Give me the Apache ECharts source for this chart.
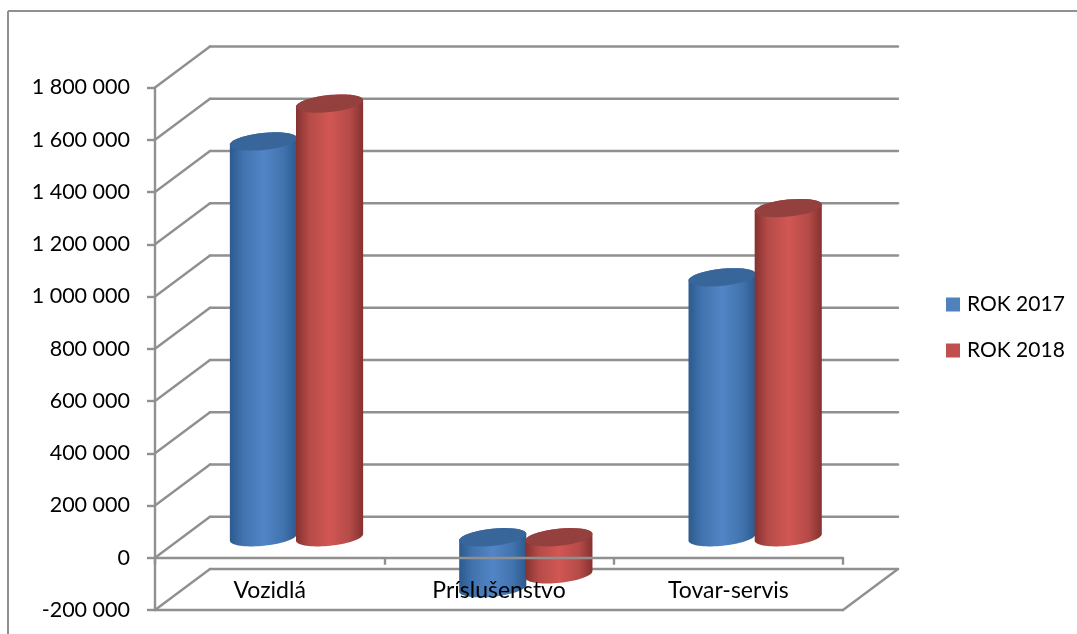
<!DOCTYPE html>
<html><head><meta charset="utf-8">
<style>html,body{margin:0;padding:0;background:#fff}#c{width:1077px;height:634px}</style>
<script src="https://cdn.jsdelivr.net/npm/echarts@6/dist/echarts.min.js"></script>
</head><body><div id="c"></div>
<script>
const categories = ['Vozidlá', 'Príslušenstvo', 'Tovar-servis'];
const values2017 = [1515000, -195000, 995000];
const values2018 = [1660000, -142000, 1260000];
const tickValues = [-200000, 0, 200000, 400000, 600000, 800000, 1000000, 1200000, 1400000, 1600000, 1800000];
const seriesNames = ['ROK 2017', 'ROK 2018'];

const DX = 55, DY = -41, BAR_W = 67.5, RY = 8.5, TILT = -6 * Math.PI / 180;
const GRAY = '#909090';
const LW = 2.4;
const FONT = 'Lato, "Open Sans", sans-serif';

function ellipsePts(cx, cy, from, to) {
  const a = BAR_W / 2, pts = [], n = 36;
  for (let i = 0; i <= n; i++) {
    const t = from + (to - from) * i / n;
    const ex = a * Math.cos(t), ey = RY * Math.sin(t);
    pts.push([cx + ex * Math.cos(TILT) - ey * Math.sin(TILT),
              cy + ex * Math.sin(TILT) + ey * Math.cos(TILT)]);
  }
  return pts;
}
function cylinder(offset, edge, mid, cap) {
  return function (params, api) {
    const idx = api.value(0), val = api.value(1);
    const hi = api.coord([idx, Math.max(val, 0)]);
    const lo = api.coord([idx, Math.min(val, 0)]);
    const cx = hi[0] + DX / 2 + offset * BAR_W / 2;
    const yTop = hi[1] + DY / 2, yBot = lo[1] + DY / 2;
    const body = [...ellipsePts(cx, yTop, 0, -Math.PI), ...ellipsePts(cx, yBot, Math.PI, 0)];
    return {
      type: 'group',
      children: [
        { type: 'polygon', shape: { points: body },
          style: { fill: { type: 'linear', x: 0, y: 0, x2: 1, y2: 0, colorStops: [
            { offset: 0, color: edge }, { offset: 0.2, color: mid[0] },
            { offset: 0.5, color: mid[1] }, { offset: 0.8, color: mid[0] }, { offset: 1, color: edge }] } } },
        { type: 'polygon', shape: { points: ellipsePts(cx, yTop, 0, 2 * Math.PI) },
          style: { fill: cap } }
      ]
    };
  };
}
function walls(params, api) {
  const v = api.value(1), p = api.coord([0, v]);
  const cs = params.coordSys;
  const x0 = cs.x, w = cs.width, y = p[1];
  const ln = (a, b, c, d) => ({ type: 'line', shape: { x1: a, y1: b, x2: c, y2: d },
    style: { stroke: GRAY, lineWidth: LW, lineCap: 'round' } });
  const kids = [ln(x0, y, x0 + DX, y + DY), ln(x0 + DX, y + DY, x0 + w + DX, y + DY)];
  if (v === tickValues[0]) {
    kids.push(ln(x0, y, x0 + w, y), ln(x0 + w, y, x0 + w + DX, y + DY));
  }
  return { type: 'group', children: kids };
}

const chart = echarts.init(document.getElementById('c'), null, { renderer: 'canvas' });
chart.setOption({
  animation: false,
  backgroundColor: '#fff',
  graphic: [
    { type: 'line', silent: true, shape: { x1: 8, y1: 11, x2: 1077, y2: 11 }, style: { stroke: GRAY, lineWidth: 2 } },
    { type: 'line', silent: true, shape: { x1: 8, y1: 11, x2: 8, y2: 634 }, style: { stroke: GRAY, lineWidth: 2 } }
  ],
  grid: { left: 155, top: 87.5, width: 688, height: 522.5, outerBoundsMode: 'none' },
  legend: {
    orient: 'vertical', left: 946, top: 294, padding: 0, itemWidth: 14, itemHeight: 14, itemGap: 25, itemStyle: { borderWidth: 0 },
    icon: 'rect', data: seriesNames, selectedMode: false,
    textStyle: { fontFamily: FONT, fontSize: 21, color: '#000', padding: [0, 0, 0, 2] }
  },
  xAxis: {
    type: 'category', data: categories, z: 20,
    axisLine: { onZero: true, lineStyle: { color: GRAY, width: LW } },
    axisTick: { show: true, alignWithLabel: false, length: 7, lineStyle: { color: GRAY, width: LW } },
    axisLabel: { margin: -31, fontFamily: FONT, fontSize: 23, color: '#000', verticalAlign: 'top' },
    splitLine: { show: false }
  },
  yAxis: {
    type: 'value', min: -200000, max: 1800000, interval: 200000,
    axisLine: { show: true, lineStyle: { color: GRAY, width: LW } },
    axisTick: { show: true, length: 8, lineStyle: { color: GRAY, width: LW } },
    axisLabel: { margin: 25, fontFamily: FONT, fontSize: 21.5, color: '#000',
      formatter: v => (v < 0 ? '-' : '') + String(Math.abs(v)).replace(/\B(?=(\d{3})+$)/g, ' ') },
    splitLine: { show: false }
  },
  series: [
    { type: 'custom', silent: true, z: 1, renderItem: walls, legendHoverLink: false,
      data: tickValues.map(v => [0, v]) },
    { type: 'custom', name: seriesNames[0], z: 5, itemStyle: { color: '#4f81bd' },
      renderItem: cylinder(-1, '#2d5a8e', ['#4173ae', '#5285c6'], '#38669b'),
      data: values2017.map((v, i) => [i, v]) },
    { type: 'custom', name: seriesNames[1], z: 6, itemStyle: { color: '#c0504d' },
      renderItem: cylinder(0.96, '#853230', ['#b54b48', '#d15753'], '#94403e'),
      data: values2018.map((v, i) => [i, v]) }
  ]
});
</script></body></html>
